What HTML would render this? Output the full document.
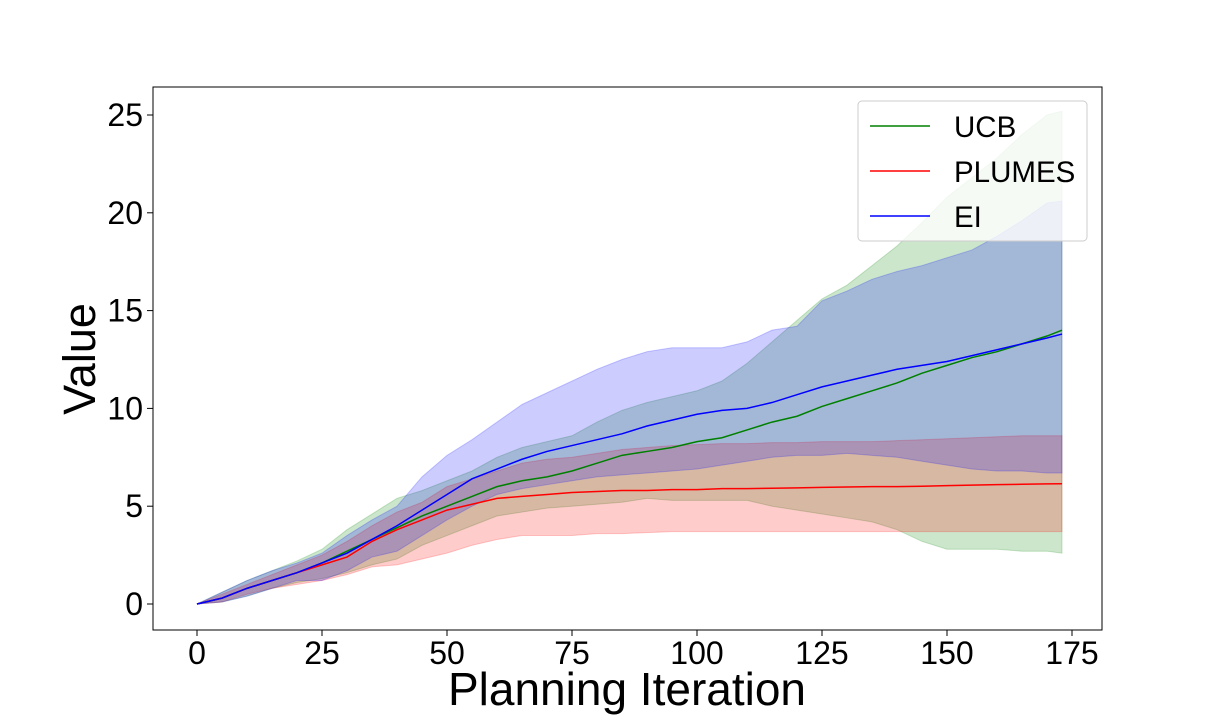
<!DOCTYPE html>
<html><head><meta charset="utf-8"><style>
body{margin:0;background:#fff;}
svg text{font-family:"Liberation Sans",sans-serif;fill:#000;}
</style></head><body>
<svg id="chart" width="1224" height="720">
<g id="bands"></g><g id="lines"></g>
<rect x="153" y="87" width="949" height="543" fill="none" stroke="#000" stroke-width="1"/>
<g id="axes"></g>
<text x="627" y="705" font-size="46" text-anchor="middle">Planning Iteration</text>
<text transform="translate(95,359) rotate(-90)" font-size="45" text-anchor="middle">Value</text>
<g>
<rect x="858" y="101" width="229" height="140" rx="4" fill="#fff" fill-opacity="0.8" stroke="#ccc"/>
<g><line x1="870" y1="126" x2="930" y2="126" stroke="green" stroke-width="1.5"/><text x="954" y="137" font-size="29.5">UCB</text></g>
<g><line x1="870" y1="171" x2="930" y2="171" stroke="red" stroke-width="1.5"/><text x="954" y="182" font-size="29.5">PLUMES</text></g>
<g><line x1="870" y1="216" x2="930" y2="216" stroke="blue" stroke-width="1.5"/><text x="954" y="227" font-size="29.5">EI</text></g>
</g>
</svg>
<script>
const iters=[0,5,10,15,20,25,30,35,40,45,50,55,60,65,70,75,80,85,90,95,100,105,110,115,120,125,130,135,140,145,150,155,160,165,170,173];
const ucbMean=[0,0.3,0.8,1.2,1.6,2.1,2.7,3.3,3.9,4.5,5.0,5.5,6.0,6.3,6.5,6.8,7.2,7.6,7.8,8.0,8.3,8.5,8.9,9.3,9.6,10.1,10.5,10.9,11.3,11.8,12.2,12.6,12.9,13.3,13.7,14.0];
const ucbUpper=[0,0.6,1.2,1.7,2.2,2.8,3.8,4.6,5.4,5.8,6.3,6.8,7.5,8.0,8.3,8.6,9.3,9.9,10.3,10.6,10.9,11.4,12.3,13.4,14.5,15.6,16.3,17.3,18.3,19.5,20.8,21.8,22.8,24.0,25.0,25.2];
const ucbLower=[0,0.1,0.4,0.8,1.1,1.3,1.6,2.0,2.3,3.0,3.5,4.0,4.5,4.7,4.9,5.0,5.1,5.2,5.4,5.3,5.3,5.3,5.3,5.0,4.8,4.6,4.4,4.2,3.8,3.2,2.8,2.8,2.8,2.7,2.7,2.6];
const eiMean=[0,0.3,0.8,1.2,1.6,2.1,2.6,3.3,4.0,4.8,5.6,6.4,6.9,7.4,7.8,8.1,8.4,8.7,9.1,9.4,9.7,9.9,10.0,10.3,10.7,11.1,11.4,11.7,12.0,12.2,12.4,12.7,13.0,13.3,13.6,13.8];
const eiUpper=[0,0.6,1.2,1.7,2.1,2.6,3.5,4.3,5.0,6.5,7.6,8.4,9.3,10.2,10.8,11.4,12.0,12.5,12.9,13.1,13.1,13.1,13.4,14.0,14.2,15.5,16.0,16.6,17.0,17.3,17.7,18.1,18.8,19.6,20.5,20.6];
const eiLower=[0,0.1,0.4,0.8,1.2,1.2,1.7,2.4,2.7,3.5,4.3,5.0,5.6,5.9,6.1,6.3,6.5,6.6,6.7,6.8,6.9,7.1,7.3,7.5,7.6,7.6,7.7,7.6,7.5,7.3,7.1,6.9,6.8,6.8,6.7,6.7];
const plMean=[0,0.3,0.8,1.2,1.6,2.0,2.4,3.2,3.8,4.3,4.8,5.1,5.4,5.5,5.6,5.7,5.75,5.8,5.8,5.85,5.85,5.9,5.9,5.92,5.94,5.96,5.98,6.0,6.0,6.02,6.05,6.08,6.1,6.12,6.14,6.15];
const plUpper=[0,0.5,1.0,1.5,2.0,2.5,3.2,4.0,4.7,5.2,6.0,6.4,6.8,7.2,7.4,7.5,7.7,7.9,8.0,8.1,8.15,8.2,8.2,8.25,8.25,8.3,8.3,8.3,8.35,8.4,8.45,8.5,8.55,8.6,8.6,8.6];
const plLower=[0,0.1,0.5,0.8,1.0,1.2,1.5,1.9,2.0,2.3,2.6,3.0,3.3,3.5,3.5,3.5,3.6,3.6,3.65,3.7,3.7,3.7,3.7,3.7,3.7,3.7,3.7,3.7,3.7,3.7,3.7,3.7,3.7,3.7,3.7,3.7];
const xTicks=[0,25,50,75,100,125,150,175];
const yTicks=[0,5,10,15,20,25];
const NS="http://www.w3.org/2000/svg";
const X=v=>197+v*5, Y=v=>604-v*19.56;
const bands=document.getElementById('bands'), lines=document.getElementById('lines'), axes=document.getElementById('axes');
function band(up,lo,color,name){
  const p=document.createElementNS(NS,'path');
  let d=iters.map((x,i)=>(i?'L':'M')+X(x)+','+Y(up[i])).join('');
  for(let i=iters.length-1;i>=0;i--) d+='L'+X(iters[i])+','+Y(lo[i]);
  p.setAttribute('d',d+'Z');p.setAttribute('fill',color);p.setAttribute('fill-opacity','0.2');
  p.setAttribute('stroke',color);p.setAttribute('stroke-opacity','0.2');
  
  
  bands.appendChild(p);
}
function line(m,color,name){
  const p=document.createElementNS(NS,'path');
  p.setAttribute('d',iters.map((x,i)=>(i?'L':'M')+X(x)+','+Y(m[i])).join(''));
  p.setAttribute('fill','none');p.setAttribute('stroke',color);p.setAttribute('stroke-width','1.5');
  
  
  lines.appendChild(p);
}
band(ucbUpper,ucbLower,'green','ucb-band');
band(plUpper,plLower,'red','plumes-band');
band(eiUpper,eiLower,'blue','ei-band');
line(ucbMean,'green','ucb-line');
line(plMean,'red','plumes-line');
line(eiMean,'blue','ei-line');
xTicks.forEach(t=>{
  const l=document.createElementNS(NS,'line');
  l.setAttribute('x1',X(t));l.setAttribute('x2',X(t));l.setAttribute('y1',630);l.setAttribute('y2',636);l.setAttribute('stroke','#000');
  
  
  axes.appendChild(l);
  const s=document.createElementNS(NS,'text');
  s.setAttribute('x',X(t));s.setAttribute('y',664);s.setAttribute('font-size','32');s.setAttribute('text-anchor','middle');s.textContent=t;
  
  
  axes.appendChild(s);
});
yTicks.forEach(t=>{
  const l=document.createElementNS(NS,'line');
  l.setAttribute('x1',147);l.setAttribute('x2',153);l.setAttribute('y1',Y(t));l.setAttribute('y2',Y(t));l.setAttribute('stroke','#000');
  
  
  axes.appendChild(l);
  const s=document.createElementNS(NS,'text');
  s.setAttribute('x',143);s.setAttribute('y',Y(t)+11);s.setAttribute('font-size','32');s.setAttribute('text-anchor','end');s.textContent=t;
  
  
  axes.appendChild(s);
});
</script>
</body></html>
